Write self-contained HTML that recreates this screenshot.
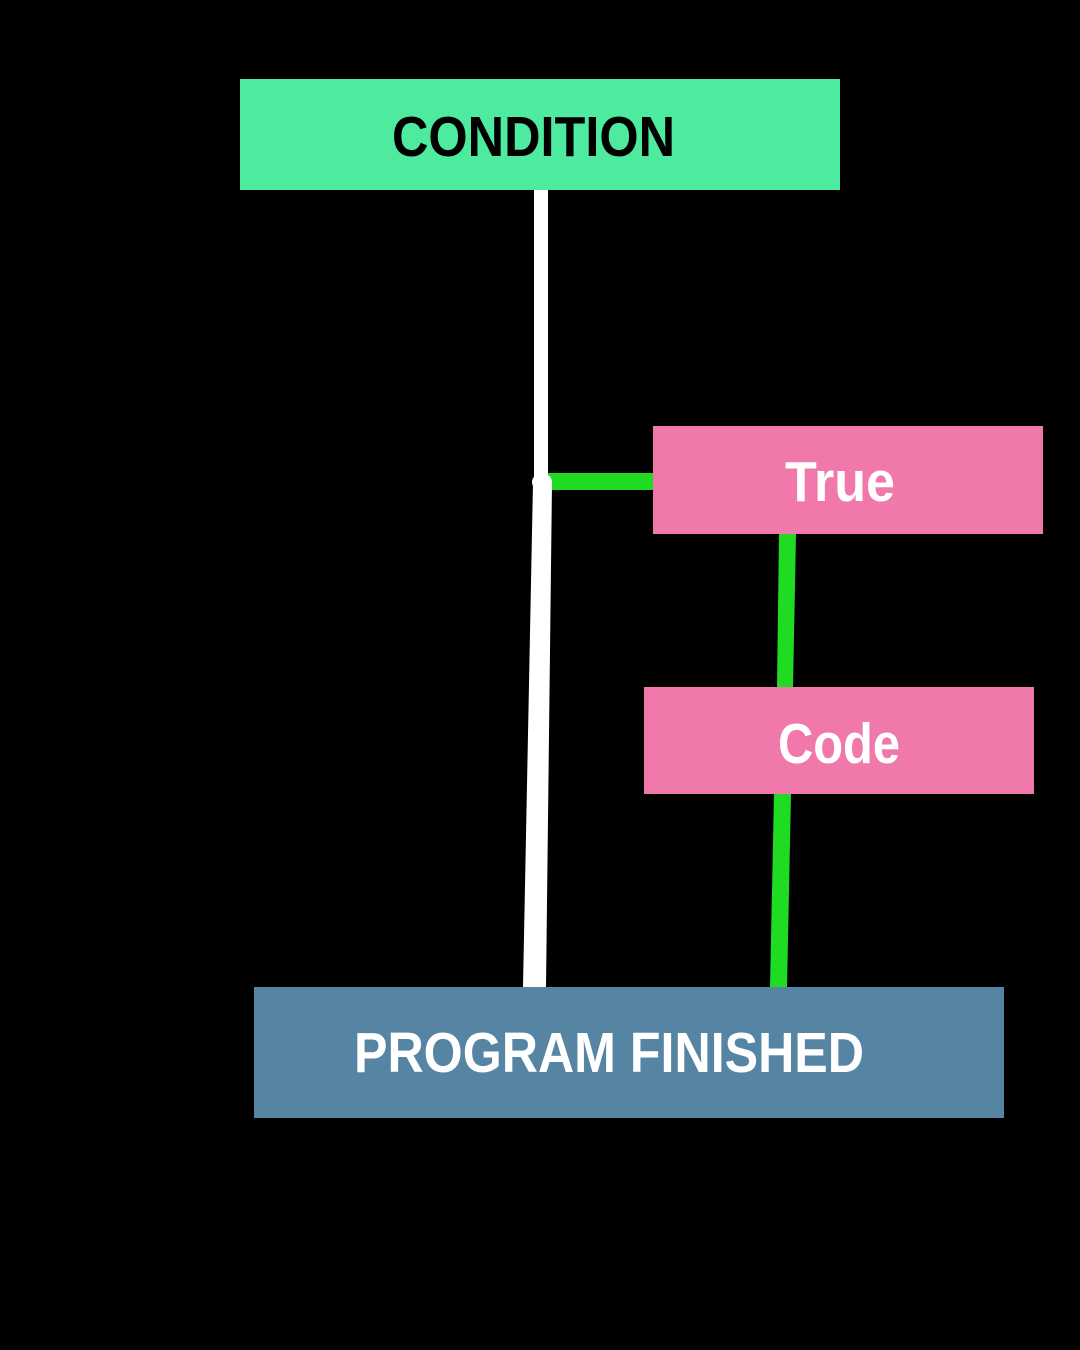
<!DOCTYPE html>
<html><head><meta charset="utf-8"><style>html,body{margin:0;padding:0;background:#000}svg{display:block}</style></head>
<body>
<svg width="1080" height="1350" viewBox="0 0 1080 1350" xmlns="http://www.w3.org/2000/svg">
<rect width="1080" height="1350" fill="#000"/>
<rect x="240" y="79" width="600" height="111" fill="#4deaa0"/>
<rect x="534" y="190" width="14" height="292" fill="#fff"/>
<rect x="548" y="473" width="106" height="17" fill="#1fdc22"/>
<polygon points="533,482 552,482 546,987 523,987" fill="#fff"/>
<rect x="532" y="474" width="20" height="16" rx="8" fill="#fff"/>
<rect x="653" y="426" width="390" height="108" fill="#f178ab"/>
<polygon points="779,534 796,534 793,687 777,687" fill="#1fdc22"/>
<rect x="644" y="687" width="390" height="107" fill="#f178ab"/>
<polygon points="774,794 791,794 787,987 770,987" fill="#1fdc22"/>
<rect x="254" y="987" width="750" height="131" fill="#5585a3"/>
<g font-family="Liberation Sans, sans-serif" font-weight="bold">
<text x="392" y="156" font-size="57" fill="#000" textLength="283" lengthAdjust="spacingAndGlyphs">CONDITION</text>
<text x="785" y="501" font-size="57" fill="#fff" textLength="110" lengthAdjust="spacingAndGlyphs">True</text>
<text x="778" y="763" font-size="57" fill="#fff" textLength="122" lengthAdjust="spacingAndGlyphs">Code</text>
<text x="354" y="1072" font-size="57" fill="#fff" textLength="510" lengthAdjust="spacingAndGlyphs">PROGRAM FINISHED</text>
</g>
</svg>
</body></html>
